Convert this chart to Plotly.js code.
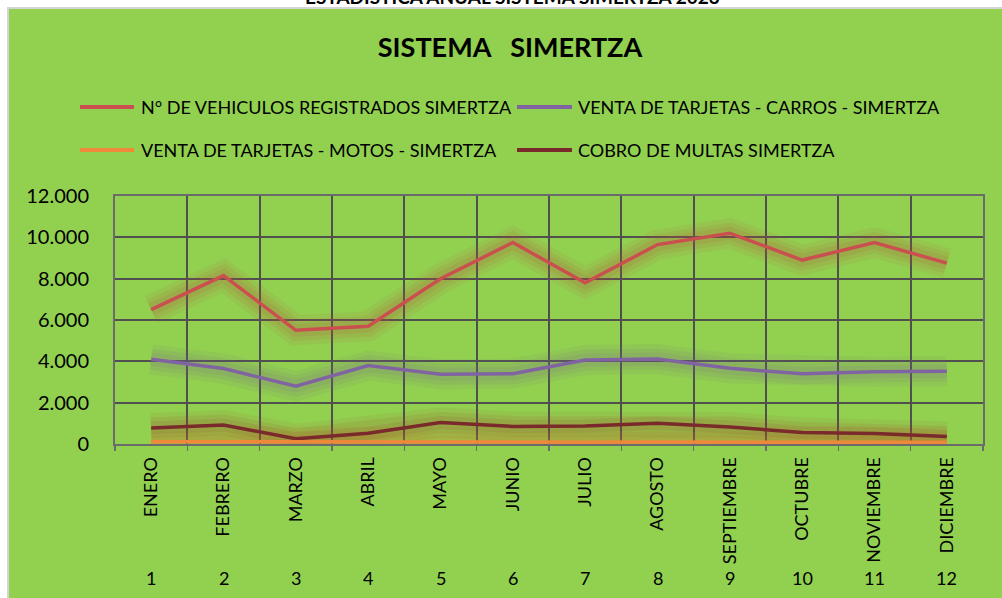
<!DOCTYPE html>
<html>
<head>
<meta charset="utf-8">
<script src="https://cdn.plot.ly/plotly-3.0.1.min.js"></script>
<style>
  html, body { margin: 0; padding: 0; background: #ffffff; }
  #wrap { position: relative; width: 1002px; height: 598px; overflow: hidden; background: #ffffff; }
  #green { position: absolute; left: 7px; top: 7px; right: 0; bottom: 0; background: #92D050; border-left: 2px solid #d4d4d4; border-top: 2px solid #d4d4d4; }
  #chart { position: absolute; left: 0; top: 0; width: 1002px; height: 598px; }
</style>
</head>
<body>
<div id="wrap">
  <div id="green"></div>
  <div id="chart"></div>
</div>
<script>
// ---- data ----
var months = ["ENERO","FEBRERO","MARZO","ABRIL","MAYO","JUNIO","JULIO","AGOSTO","SEPTIEMBRE","OCTUBRE","NOVIEMBRE","DICIEMBRE"];
var monthNumbers = ["1","2","3","4","5","6","7","8","9","10","11","12"];
var seriesNames = ["N° DE VEHICULOS REGISTRADOS SIMERTZA","VENTA DE TARJETAS - CARROS - SIMERTZA","VENTA DE TARJETAS - MOTOS - SIMERTZA","COBRO DE MULTAS SIMERTZA"];
var vehiculos = [6500, 8150, 5500, 5700, 8000, 9750, 7800, 9650, 10200, 8900, 9750, 8750];
var tarjetasCarros = [4100, 3650, 2800, 3800, 3380, 3400, 4060, 4110, 3660, 3400, 3490, 3520];
var tarjetasMotos = [110, 100, 90, 100, 110, 100, 90, 100, 80, 90, 80, 90];
var multas = [780, 920, 250, 520, 1040, 850, 870, 1010, 820, 560, 510, 360];
var yTickVals = [0, 2000, 4000, 6000, 8000, 10000, 12000];

var seriesData = [vehiculos, tarjetasCarros, tarjetasMotos, multas];
var colors = ["#C9504F", "#8064A2", "#F0883A", "#7A2A2A"];
var glowRGB = ["190,80,60", "120,100,140", "220,120,40", "160,60,40"];

var FONT = "Lato, 'Open Sans', sans-serif";
var traces = [];
// soft glow layers
var glowLayers = [{ w: 30, a: 0.08 }, { w: 21, a: 0.10 }, { w: 13, a: 0.12 }];
seriesData.forEach(function (ys, i) {
  glowLayers.forEach(function (g) {
    traces.push({ x: months, y: ys, type: "scatter", mode: "lines", showlegend: false, hoverinfo: "skip",
      line: { color: "rgba(" + glowRGB[i] + "," + g.a + ")", width: g.w } });
  });
});
[3, 1, 0, 2].forEach(function (i) {
  traces.push({ x: months, y: seriesData[i], type: "scatter", mode: "lines", name: seriesNames[i],
    showlegend: false, cliponaxis: false, line: { color: colors[i], width: 3.5 } });
});

// manual legend (two rows, two columns)
var L = 115, R = 19, T = 196, B = 154, W = 1002 - L - R, H = 598 - T - B;
function px2x(px) { return (px - L) / W; }
function py2y(py) { return (598 - B - py) / H; }
var legendPos = [
  { lx0: 80, lx1: 134, tx: 139, y: 107 },
  { lx0: 517, lx1: 572, tx: 576, y: 107 },
  { lx0: 80, lx1: 134, tx: 139, y: 150 },
  { lx0: 517, lx1: 572, tx: 576, y: 150 }
];
var shapes = [];
var annotations = [];
seriesNames.forEach(function (nm, i) {
  var p = legendPos[i];
  shapes.push({ type: "line", xref: "paper", yref: "paper", x0: px2x(p.lx0), x1: px2x(p.lx1),
    y0: py2y(p.y), y1: py2y(p.y), line: { color: colors[i], width: 4 } });
  annotations.push({ xref: "paper", yref: "paper", x: px2x(p.tx), y: py2y(p.y), xanchor: "left", yanchor: "middle",
    text: nm, showarrow: false, font: { family: FONT, size: 18, color: "#000" } });
});
monthNumbers.forEach(function (n, i) {
  annotations.push({ xref: "x", yref: "paper", x: months[i], y: py2y(578), xanchor: "center", yanchor: "middle",
    text: n, showarrow: false, font: { family: FONT, size: 18, color: "#000" } });
});
// cut-off sheet title at the very top (only its lower part shows, as in the reference)
annotations.push({ xref: "paper", yref: "paper", x: px2x(512), y: py2y(-3), xanchor: "center", yanchor: "middle",
  text: "ESTADISTICA ANUAL SISTEMA SIMERTZA 2023", showarrow: false,
  font: { family: FONT, size: 19, color: "#000", weight: "bold" } });

var layout = {
  width: 1002, height: 598,
  margin: { l: L, r: R, t: T, b: B, pad: 0 },
  paper_bgcolor: "rgba(0,0,0,0)",
  plot_bgcolor: "rgba(0,0,0,0)",
  separators: ",.",
  showlegend: false,
  title: { text: "<b>SISTEMA   SIMERTZA</b>", xref: "container", yref: "container", x: 510 / 1002, y: 1 - 48 / 598,
    xanchor: "center", yanchor: "middle", font: { family: FONT, size: 27, color: "#000" } },
  xaxis: {
    type: "category", range: [-0.5, 11.5], tickson: "boundaries", tickangle: -90,
    showgrid: true, gridcolor: "#505050", gridwidth: 2,
    showline: true, linecolor: "#6b6b6b", linewidth: 2, mirror: true,
    ticks: "outside", ticklen: 5, tickcolor: "#6b6b6b", tickwidth: 1.5,
    ticklabelstandoff: 4, layer: "below traces",
    tickfont: { family: FONT, size: 18, color: "#000" },
    fixedrange: true
  },
  yaxis: {
    range: [0, 12000], tickvals: yTickVals, tickformat: ",d",
    showgrid: true, gridcolor: "#505050", gridwidth: 2,
    showline: true, linecolor: "#6b6b6b", linewidth: 2, mirror: true,
    zeroline: false, ticks: "", ticklabelstandoff: 20, layer: "below traces",
    tickfont: { family: FONT, size: 20, color: "#000" },
    fixedrange: true
  },
  shapes: shapes,
  annotations: annotations
};

Plotly.newPlot("chart", traces, layout, { displayModeBar: false, staticPlot: true });
</script>
</body>
</html>
